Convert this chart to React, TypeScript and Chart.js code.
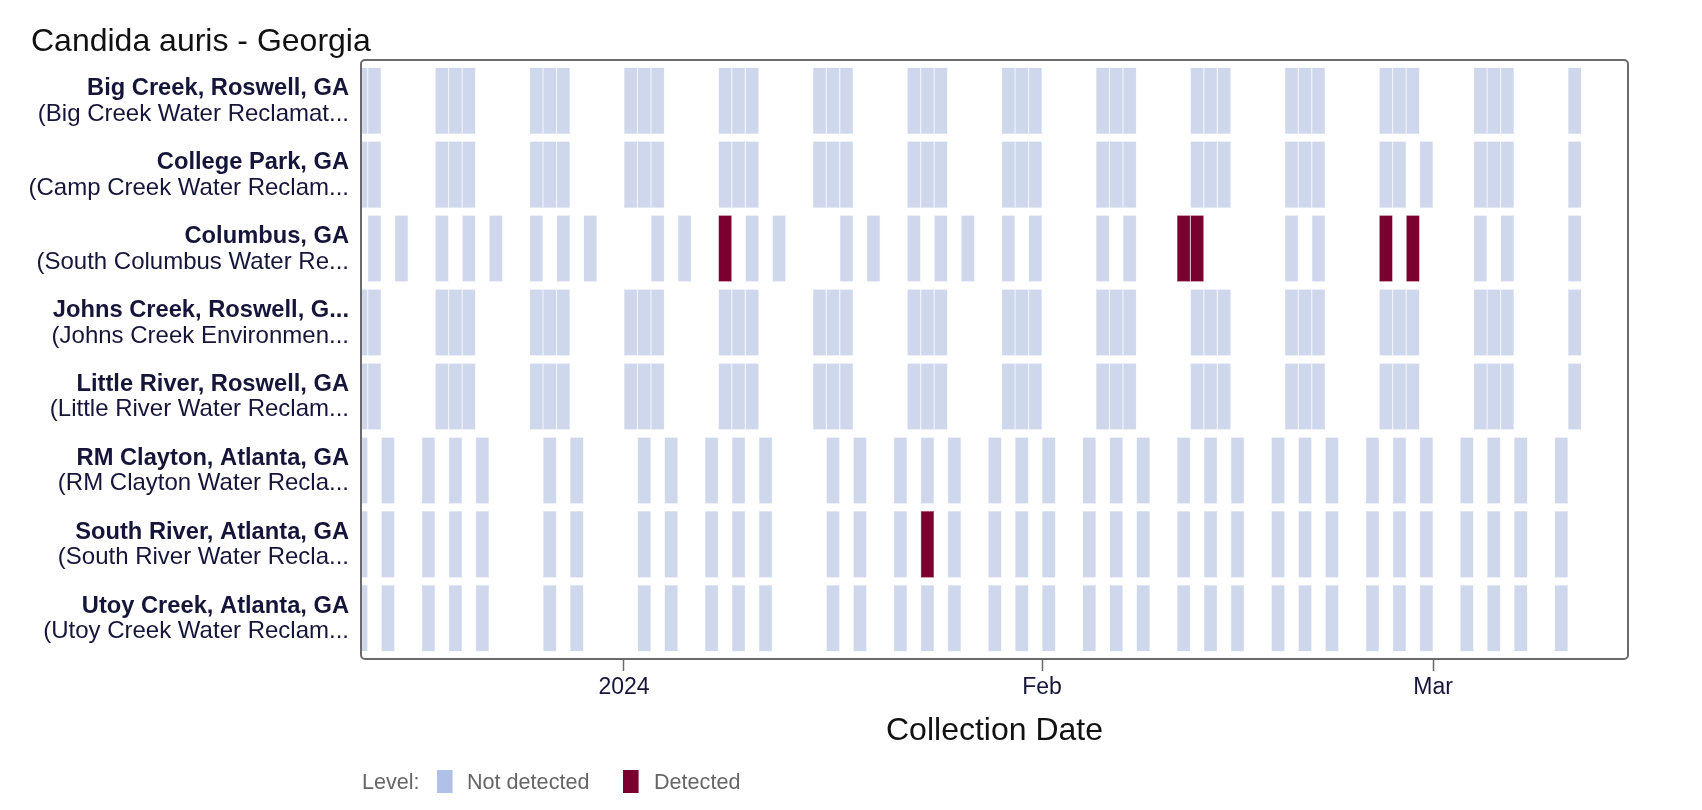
import React, { useEffect, useRef } from 'react';
import { Chart, registerables } from 'chart.js';

Chart.register(...registerables);

const FONT = '"Liberation Sans", Arial, Helvetica, sans-serif';
const W = 1702;
const H = 810;

const chartTitle = 'Candida auris - Georgia';
const xAxisTitle = 'Collection Date';
const legendTitle = 'Level:';
const levelNames = ['Not detected', 'Detected'];
const cellColors = ['#cfd7ed', '#7a0030'];
const cellEdgeColors = ['#e4e8f5', '#b56082'];
const legendColors = ['#b0c0e6', '#7a0030'];

const siteNames = [
  'Big Creek, Roswell, GA',
  'College Park, GA',
  'Columbus, GA',
  'Johns Creek, Roswell, G...',
  'Little River, Roswell, GA',
  'RM Clayton, Atlanta, GA',
  'South River, Atlanta, GA',
  'Utoy Creek, Atlanta, GA',
];
const plantNames = [
  '(Big Creek Water Reclamat...',
  '(Camp Creek Water Reclam...',
  '(South Columbus Water Re...',
  '(Johns Creek Environmen...',
  '(Little River Water Reclam...',
  '(RM Clayton Water Recla...',
  '(South River Water Recla...',
  '(Utoy Creek Water Reclam...',
];

const bigCreekDates = [
  '2023-12-12', '2023-12-13',
  '2023-12-18', '2023-12-19', '2023-12-20',
  '2023-12-25', '2023-12-26', '2023-12-27',
  '2024-01-01', '2024-01-02', '2024-01-03',
  '2024-01-08', '2024-01-09', '2024-01-10',
  '2024-01-15', '2024-01-16', '2024-01-17',
  '2024-01-22', '2024-01-23', '2024-01-24',
  '2024-01-29', '2024-01-30', '2024-01-31',
  '2024-02-05', '2024-02-06', '2024-02-07',
  '2024-02-12', '2024-02-13', '2024-02-14',
  '2024-02-19', '2024-02-20', '2024-02-21',
  '2024-02-26', '2024-02-27', '2024-02-28',
  '2024-03-04', '2024-03-05', '2024-03-06',
  '2024-03-11',
];
const collegeParkDates = [
  '2023-12-12', '2023-12-13',
  '2023-12-18', '2023-12-19', '2023-12-20',
  '2023-12-25', '2023-12-26', '2023-12-27',
  '2024-01-01', '2024-01-02', '2024-01-03',
  '2024-01-08', '2024-01-09', '2024-01-10',
  '2024-01-15', '2024-01-16', '2024-01-17',
  '2024-01-22', '2024-01-23', '2024-01-24',
  '2024-01-29', '2024-01-30', '2024-01-31',
  '2024-02-05', '2024-02-06', '2024-02-07',
  '2024-02-12', '2024-02-13', '2024-02-14',
  '2024-02-19', '2024-02-20', '2024-02-21',
  '2024-02-26', '2024-02-27', '2024-02-29',
  '2024-03-04', '2024-03-05', '2024-03-06',
  '2024-03-11',
];
const columbusDates = [
  '2023-12-13', '2023-12-15', '2023-12-18', '2023-12-20', '2023-12-22',
  '2023-12-25', '2023-12-27', '2023-12-29', '2024-01-03', '2024-01-05',
  '2024-01-08', '2024-01-10', '2024-01-12', '2024-01-17', '2024-01-19',
  '2024-01-22', '2024-01-24', '2024-01-26', '2024-01-29', '2024-01-31',
  '2024-02-05', '2024-02-07', '2024-02-11', '2024-02-12', '2024-02-19',
  '2024-02-21', '2024-02-26', '2024-02-28', '2024-03-04', '2024-03-06',
  '2024-03-11',
];
const johnsCreekDates = [
  '2023-12-12', '2023-12-13',
  '2023-12-18', '2023-12-19', '2023-12-20',
  '2023-12-25', '2023-12-26', '2023-12-27',
  '2024-01-01', '2024-01-02', '2024-01-03',
  '2024-01-08', '2024-01-09', '2024-01-10',
  '2024-01-15', '2024-01-16', '2024-01-17',
  '2024-01-22', '2024-01-23', '2024-01-24',
  '2024-01-29', '2024-01-30', '2024-01-31',
  '2024-02-05', '2024-02-06', '2024-02-07',
  '2024-02-12', '2024-02-13', '2024-02-14',
  '2024-02-19', '2024-02-20', '2024-02-21',
  '2024-02-26', '2024-02-27', '2024-02-28',
  '2024-03-04', '2024-03-05', '2024-03-06',
  '2024-03-11',
];
const littleRiverDates = [
  '2023-12-12', '2023-12-13',
  '2023-12-18', '2023-12-19', '2023-12-20',
  '2023-12-25', '2023-12-26', '2023-12-27',
  '2024-01-01', '2024-01-02', '2024-01-03',
  '2024-01-08', '2024-01-09', '2024-01-10',
  '2024-01-15', '2024-01-16', '2024-01-17',
  '2024-01-22', '2024-01-23', '2024-01-24',
  '2024-01-29', '2024-01-30', '2024-01-31',
  '2024-02-05', '2024-02-06', '2024-02-07',
  '2024-02-12', '2024-02-13', '2024-02-14',
  '2024-02-19', '2024-02-20', '2024-02-21',
  '2024-02-26', '2024-02-27', '2024-02-28',
  '2024-03-04', '2024-03-05', '2024-03-06',
  '2024-03-11',
];
const rmClaytonDates = [
  '2023-12-12', '2023-12-14', '2023-12-17', '2023-12-19', '2023-12-21',
  '2023-12-26', '2023-12-28', '2024-01-02', '2024-01-04', '2024-01-07',
  '2024-01-09', '2024-01-11', '2024-01-16', '2024-01-18', '2024-01-21',
  '2024-01-23', '2024-01-25', '2024-01-28', '2024-01-30', '2024-02-01',
  '2024-02-04', '2024-02-06', '2024-02-08', '2024-02-11', '2024-02-13',
  '2024-02-15', '2024-02-18', '2024-02-20', '2024-02-22', '2024-02-25',
  '2024-02-27', '2024-02-29', '2024-03-03', '2024-03-05', '2024-03-07',
  '2024-03-10',
];
const southRiverDates = [
  '2023-12-12', '2023-12-14', '2023-12-17', '2023-12-19', '2023-12-21',
  '2023-12-26', '2023-12-28', '2024-01-02', '2024-01-04', '2024-01-07',
  '2024-01-09', '2024-01-11', '2024-01-16', '2024-01-18', '2024-01-21',
  '2024-01-23', '2024-01-25', '2024-01-28', '2024-01-30', '2024-02-01',
  '2024-02-04', '2024-02-06', '2024-02-08', '2024-02-11', '2024-02-13',
  '2024-02-15', '2024-02-18', '2024-02-20', '2024-02-22', '2024-02-25',
  '2024-02-27', '2024-02-29', '2024-03-03', '2024-03-05', '2024-03-07',
  '2024-03-10',
];
const utoyCreekDates = [
  '2023-12-12', '2023-12-14', '2023-12-17', '2023-12-19', '2023-12-21',
  '2023-12-26', '2023-12-28', '2024-01-02', '2024-01-04', '2024-01-07',
  '2024-01-09', '2024-01-11', '2024-01-16', '2024-01-18', '2024-01-21',
  '2024-01-23', '2024-01-25', '2024-01-28', '2024-01-30', '2024-02-01',
  '2024-02-04', '2024-02-06', '2024-02-08', '2024-02-11', '2024-02-13',
  '2024-02-15', '2024-02-18', '2024-02-20', '2024-02-22', '2024-02-25',
  '2024-02-27', '2024-02-29', '2024-03-03', '2024-03-05', '2024-03-07',
  '2024-03-10',
];

const columbusDetected = ['2024-01-08', '2024-02-11', '2024-02-12', '2024-02-26', '2024-02-28'];
const southRiverDetected = ['2024-01-23'];

const siteDates = [
  bigCreekDates, collegeParkDates, columbusDates, johnsCreekDates,
  littleRiverDates, rmClaytonDates, southRiverDates, utoyCreekDates,
];
const siteDetected = [[], [], columbusDetected, [], [], [], southRiverDetected, []];

const tickDates = ['2024-01-01', '2024-02-01', '2024-03-01'];
const tickLabels = ['2024', 'Feb', 'Mar'];
const xRangeStart = '2023-12-12T12:00:00';
const xRangeEnd = '2024-03-15T10:48:00';

const DAY = 86400000;
const dayNum = (s: string) => Date.parse((s.length === 10 ? s + 'T00:00:00' : s) + 'Z') / DAY;

function buildData() {
  const notDetected: any[] = [];
  const detected: any[] = [];
  siteDates.forEach((dates, i) => {
    dates.forEach((d) => {
      const v = dayNum(d);
      const pt = { x: [v, v + 1], y: i };
      if ((siteDetected[i] as string[]).includes(d)) detected.push(pt);
      else notDetected.push(pt);
    });
  });
  return { notDetected, detected };
}

const decorPlugin = {
  id: 'decor',
  afterDraw(chart: any) {
    const { ctx, chartArea } = chart;
    const yScale = chart.scales.y;
    ctx.save();

    // title
    ctx.fillStyle = '#111111';
    ctx.font = `32px ${FONT}`;
    ctx.textAlign = 'left';
    ctx.textBaseline = 'alphabetic';
    ctx.fillText(chartTitle, 31, 51);

    // plot border
    const r = 4;
    const { left, right, top, bottom } = chartArea;
    ctx.strokeStyle = '#6a6a6a';
    ctx.lineWidth = 2;
    ctx.beginPath();
    ctx.moveTo(left + r, top);
    ctx.lineTo(right - r, top);
    ctx.arcTo(right, top, right, top + r, r);
    ctx.lineTo(right, bottom - r);
    ctx.arcTo(right, bottom, right - r, bottom, r);
    ctx.lineTo(left + r, bottom);
    ctx.arcTo(left, bottom, left, bottom - r, r);
    ctx.lineTo(left, top + r);
    ctx.arcTo(left, top, left + r, top, r);
    ctx.closePath();
    ctx.stroke();

    // y labels
    ctx.textAlign = 'right';
    ctx.fillStyle = '#15153a';
    const xr = left - 12;
    siteNames.forEach((name, i) => {
      const cy = yScale.getPixelForValue(i);
      ctx.font = `bold 23.7px ${FONT}`;
      ctx.fillText(name, xr, cy - 5.5);
      ctx.font = `24px ${FONT}`;
      ctx.fillText(plantNames[i], xr, cy + 20);
    });

    // legend
    ctx.textAlign = 'left';
    ctx.font = `21.6px ${FONT}`;
    ctx.fillStyle = '#666666';
    const ly = 789;
    ctx.fillText(legendTitle, 362, ly);
    const swX = [437, 623];
    const txX = [467, 654];
    levelNames.forEach((n, i) => {
      ctx.fillStyle = legendColors[i];
      ctx.fillRect(swX[i], 770, 15.6, 23);
      ctx.fillStyle = '#666666';
      ctx.fillText(n, txX[i], ly);
    });

    ctx.restore();
  },
};

export default function App() {
  const ref = useRef<HTMLCanvasElement | null>(null);
  useEffect(() => {
    if (!ref.current) return;
    const { notDetected, detected } = buildData();
    const common = {
      grouped: false,
      barPercentage: 0.9,
      categoryPercentage: 1,
      borderWidth: 0.5,
      borderSkipped: false,
    };
    const chart = new Chart(ref.current, {
      type: 'bar',
      data: {
        datasets: [
          {
            label: levelNames[0],
            data: notDetected,
            backgroundColor: cellColors[0],
            borderColor: cellEdgeColors[0],
            ...common,
          } as any,
          {
            label: levelNames[1],
            data: detected,
            backgroundColor: cellColors[1],
            borderColor: cellEdgeColors[1],
            ...common,
          } as any,
        ],
      },
      options: {
        indexAxis: 'y',
        responsive: false,
        maintainAspectRatio: false,
        animation: false,
        layout: { padding: { left: 361, right: 74, top: 60, bottom: 59.4 } },
        scales: {
          x: {
            type: 'linear',
            position: 'bottom',
            offset: false,
            min: dayNum(xRangeStart),
            max: dayNum(xRangeEnd),
            border: { display: false },
            grid: {
              display: true,
              offset: false,
              drawOnChartArea: false,
              drawTicks: true,
              tickLength: 12,
              tickColor: '#6a6a6a',
              tickWidth: 1.5,
            },
            afterBuildTicks: (scale: any) => {
              scale.ticks = tickDates.map((d) => ({ value: dayNum(d) }));
            },
            afterFit: (scale: any) => {
              scale.height = 91.6;
            },
            ticks: {
              autoSkip: false,
              maxRotation: 0,
              padding: 3,
              color: '#15153a',
              font: { family: FONT, size: 23 },
              callback: (_v: any, i: number) => tickLabels[i] ?? '',
            },
            title: {
              display: true,
              text: xAxisTitle,
              color: '#111111',
              padding: 0,
              font: { family: FONT, size: 32 },
            },
          },
          y: {
            type: 'linear',
            reverse: true,
            offset: false,
            min: -0.55,
            max: 7.55,
            display: false,
            grid: { offset: false },
            afterBuildTicks: (scale: any) => {
              scale.ticks = siteNames.map((_n, i) => ({ value: i }));
            },
          },
        },
        plugins: {
          legend: { display: false },
          tooltip: { enabled: false },
        },
      } as any,
      plugins: [decorPlugin],
    });
    return () => chart.destroy();
  }, []);

  return (
    <div style={{ position: 'absolute', left: 0, top: 0, width: W, height: H, background: '#ffffff' }}>
      <canvas ref={ref} width={W} height={H} style={{ width: W, height: H, display: 'block' }} />
    </div>
  );
}
